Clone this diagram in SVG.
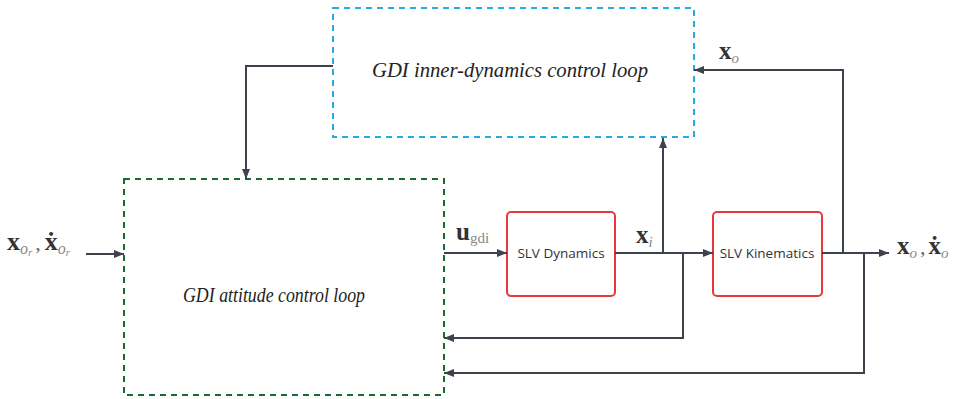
<svg xmlns="http://www.w3.org/2000/svg" width="955" height="399" viewBox="0 0 955 399">
  <defs>
    <marker id="arrow" viewBox="0 0 10 10" refX="10" refY="5" markerWidth="10" markerHeight="10" markerUnits="userSpaceOnUse" orient="auto">
      <path d="M0,1 L10,5 L0,9 Z" fill="#3d434d"/>
    </marker>
    <style>
      .wire { fill: none; stroke: #3d434d; stroke-width: 2; }
      .loop-label { font-family: "Liberation Serif", serif; font-style: italic; font-size: 20px; fill: #222; }
      .block { fill: #fff; stroke: #e8383d; stroke-width: 2; }
      .block-label { font-family: "Open Sans", "Liberation Sans", sans-serif; font-size: 13.5px; fill: #333; }
      .mx { font-family: "Liberation Serif", serif; font-weight: bold; fill: #333; }
      .sub { font-family: "Liberation Serif", serif; font-style: italic; fill: #888; }
      .subr { font-family: "Liberation Serif", serif; fill: #888; }
      .sep { font-family: "Liberation Serif", serif; fill: #666; }
    </style>
  </defs>

  <!-- outer attitude loop -->
  <g id="attitude-loop">
    <rect x="124" y="179" width="320" height="216" fill="none" stroke="#1a6b30" stroke-width="2" stroke-dasharray="6,5"/>
    <text class="loop-label" x="183" y="302" textLength="182" lengthAdjust="spacingAndGlyphs">GDI attitude control loop</text>
  </g>

  <!-- inner dynamics loop -->
  <g id="inner-loop">
    <rect x="333" y="8" width="361" height="129" fill="none" stroke="#29abe2" stroke-width="2" stroke-dasharray="6,5"/>
    <text class="loop-label" x="372" y="77" font-size="21" textLength="276" lengthAdjust="spacingAndGlyphs">GDI inner-dynamics control loop</text>
  </g>

  <g id="slv-dynamics">
    <rect class="block" x="507" y="212" width="108" height="84" rx="4"/>
    <text class="block-label" x="561" y="258" text-anchor="middle">SLV Dynamics</text>
  </g>

  <g id="slv-kinematics">
    <rect class="block" x="713" y="212" width="109" height="84" rx="4"/>
    <text class="block-label" x="767" y="258" text-anchor="middle">SLV Kinematics</text>
  </g>

  <!-- signal connectors -->
  <g id="connectors">
    <path class="wire" d="M86,254 H124" marker-end="url(#arrow)"/>
    <path class="wire" d="M333,66 H246 V179" marker-end="url(#arrow)"/>
    <path class="wire" d="M444,253 H507" marker-end="url(#arrow)"/>
    <path class="wire" d="M615,253 H713" marker-end="url(#arrow)"/>
    <path class="wire" d="M663,253 V138" marker-end="url(#arrow)"/>
    <path class="wire" d="M683,253 V338 H444" marker-end="url(#arrow)"/>
    <path class="wire" d="M822,253 H889" marker-end="url(#arrow)"/>
    <path class="wire" d="M843,253 V70 H694" marker-end="url(#arrow)"/>
    <path class="wire" d="M864,253 V373 H444" marker-end="url(#arrow)"/>
  </g>

  <!-- signal labels -->
  <g id="labels">
    <text x="7" y="250"><tspan class="mx" font-size="26">x</tspan><tspan class="sub" font-size="16" dy="4">o</tspan><tspan class="sub" font-size="11" dy="2">r</tspan><tspan class="sep" font-size="22" dy="-6" dx="3">,</tspan><tspan class="mx" font-size="26" dx="4">ẋ</tspan><tspan class="sub" font-size="16" dy="4">o</tspan><tspan class="sub" font-size="11" dy="2">r</tspan></text>
    <text x="456" y="240"><tspan class="mx" font-size="25">u</tspan><tspan class="subr" font-size="15" dy="3">gdi</tspan></text>
    <text x="636" y="243"><tspan class="mx" font-size="25">x</tspan><tspan class="sub" font-size="15" dy="4">i</tspan></text>
    <text x="719" y="59"><tspan class="mx" font-size="25">x</tspan><tspan class="sub" font-size="15" dy="4">o</tspan></text>
    <text x="897" y="254"><tspan class="mx" font-size="25">x</tspan><tspan class="sub" font-size="15" dy="4">o</tspan><tspan class="sep" font-size="22" dy="-4" dx="3">,</tspan><tspan class="mx" font-size="25" dx="3">ẋ</tspan><tspan class="sub" font-size="15" dy="4">o</tspan></text>
  </g>
</svg>
